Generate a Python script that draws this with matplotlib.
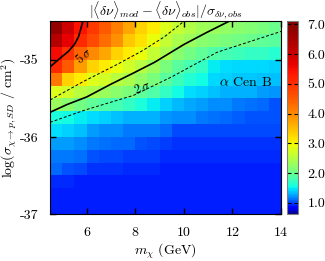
import numpy as np
import matplotlib
matplotlib.use("Agg")
import matplotlib.pyplot as plt
from matplotlib.colors import ListedColormap

# grid of the map: cell centres
mass = np.arange(4.75, 14.0, 0.5)                       # GeV, 19 columns
log_sigma = np.linspace(-34.5 - 1/12, -37 + 1/12, 15)   # top row first

# |<dnu>_mod - <dnu>_obs| / sigma (top row first)
chi = np.array([
    [6.8, 6.0, 5.4, 4.9, 4.5, 4.1, 3.7, 3.3, 3.1, 2.8, 2.6, 2.45, 2.35, 2.3, 2.25, 2.2, 2.15, 2.1, 2.0],
    [6.3, 5.7, 5.1, 4.7, 4.3, 3.9, 3.4, 3.2, 2.9, 2.6, 2.4, 2.3, 2.2, 2.15, 2.1, 2.05, 2.0, 1.95, 1.9],
    [5.5, 5.0, 4.4, 4.0, 3.7, 3.3, 3.1, 2.9, 2.6, 2.4, 2.2, 2.05, 1.95, 1.85, 1.8, 1.75, 1.7, 1.7, 1.65],
    [5.1, 4.5, 3.8, 3.3, 3.1, 2.9, 2.7, 2.5, 2.3, 2.1, 1.9, 1.8, 1.7, 1.5, 1.45, 1.42, 1.42, 1.42, 1.4],
    [4.2, 3.3, 3.1, 2.8, 2.7, 2.5, 2.4, 2.25, 2.1, 1.9, 1.75, 1.62, 1.55, 1.42, 1.38, 1.37, 1.36, 1.35, 1.35],
    [2.8, 2.7, 2.5, 2.4, 2.3, 2.2, 2.1, 1.95, 1.85, 1.7, 1.55, 1.45, 1.4, 1.35, 1.3, 1.3, 1.28, 1.25, 1.22],
    [2.3, 2.2, 2.05, 1.95, 1.85, 1.8, 1.7, 1.6, 1.5, 1.4, 1.32, 1.27, 1.25, 1.2, 1.18, 1.15, 1.12, 1.1, 1.05],
    [1.6, 1.55, 1.5, 1.45, 1.4, 1.35, 1.3, 1.3, 1.28, 1.22, 1.2, 1.2, 1.15, 1.12, 1.08, 1.06, 1.05, 1.04, 1.03],
    [1.45, 1.4, 1.35, 1.25, 1.2, 1.2, 1.15, 1.15, 1.15, 1.1, 1.0, 1.0, 1.0, 1.0, 1.0, 1.0, 1.0, 1.0, 1.0],
    [1.25, 1.25, 1.2, 1.15, 1.12, 1.1, 1.08, 1.05, 1.0, 0.98, 0.96, 0.96, 0.95, 0.95, 0.95, 0.95, 0.95, 0.95, 0.95],
    [1.15, 1.15, 1.12, 1.05, 1.0, 1.0, 0.98, 0.98, 0.98, 0.94, 0.93, 0.93, 0.93, 0.93, 0.93, 0.93, 0.93, 0.93, 0.93],
    [1.1, 1.05, 1.0, 0.97, 0.95, 0.95, 0.93, 0.93, 0.93, 0.92, 0.92, 0.92, 0.92, 0.92, 0.92, 0.92, 0.92, 0.92, 0.92],
    [0.93, 0.93, 0.92, 0.92, 0.92, 0.92, 0.92, 0.92, 0.92, 0.92, 0.92, 0.92, 0.92, 0.92, 0.92, 0.92, 0.92, 0.92, 0.92],
    [0.92, 0.92, 0.92, 0.92, 0.92, 0.92, 0.92, 0.92, 0.92, 0.92, 0.92, 0.92, 0.92, 0.92, 0.92, 0.92, 0.92, 0.92, 0.92],
    [0.91, 0.91, 0.91, 0.91, 0.91, 0.91, 0.91, 0.91, 0.91, 0.91, 0.91, 0.91, 0.91, 0.91, 0.91, 0.91, 0.91, 0.91, 0.91],
])

# contour lines
c5_m = [4.5, 4.98, 5.25, 5.5, 5.67, 5.85]
c5_s = [-35.09, -34.96, -34.89, -34.80, -34.70, -34.5]
c2_m = [4.5, 5.19, 6.01, 6.97, 7.93, 8.8, 10.0, 10.9, 11.85]
c2_s = [-35.68, -35.58, -35.48, -35.32, -35.17, -35.03, -34.80, -34.65, -34.5]
up_m = [4.5, 5.87, 7.25, 8.3, 9.2, 10.0]
up_s = [-35.52, -35.28, -35.06, -34.88, -34.70, -34.5]
lo_m = [4.5, 5.94, 7.93, 9.5, 11.37, 14.0]
lo_s = [-35.81, -35.65, -35.46, -35.22, -34.90, -34.63]

vmin, vmax = 0.62, 7.1
cb_ticks = [1.0, 2.0, 3.0, 4.0, 5.0, 6.0, 7.0]


def main():
    plt.rcParams['font.family'] = 'serif'
    plt.rcParams['font.serif'] = ['cmr10', 'DejaVu Serif']
    plt.rcParams['mathtext.fontset'] = 'cm'
    plt.rcParams['font.size'] = 10

    # jet, spread logarithmically over a linear colour axis
    v = np.linspace(vmin, vmax, 256)
    cmap = ListedColormap(plt.cm.jet(np.log(v / vmin) / np.log(vmax / vmin)))

    fig = plt.figure(figsize=(3.25, 2.61), dpi=100)
    ax = fig.add_axes([0.154, 0.18, 0.711, 0.738])
    cax = fig.add_axes([0.883, 0.18, 0.034, 0.738])

    mesh = ax.pcolormesh(mass, log_sigma, chi, cmap=cmap, vmin=vmin, vmax=vmax,
                         shading='nearest')

    ax.plot(c5_m, c5_s, color='black', lw=1.2)
    ax.plot(c2_m, c2_s, color='black', lw=1.2)
    ax.plot(up_m, up_s, color='black', lw=0.7, ls=(0, (3, 2)))
    ax.plot(lo_m, lo_s, color='black', lw=0.7, ls=(0, (3, 2)))

    ax.text(5.87, -34.95, r'5$\,\sigma$', rotation=40, ha='center', va='center', fontsize=9)
    ax.text(8.28, -35.36, r'2$\,\sigma$', rotation=20, ha='center', va='center', fontsize=9)
    ax.text(12.55, -35.29, r'$\alpha$ Cen B', ha='center', va='center', fontsize=10)

    ax.set_xlim(4.5, 14)
    ax.set_ylim(-37, -34.5)
    ax.set_xticks([6, 8, 10, 12, 14])
    ax.set_xticklabels(['6', '8', '10', '12', '14'])
    ax.set_yticks([-37, -36, -35])
    ax.set_yticklabels(['-37', '-36', '-35'])
    ax.tick_params(direction='in', top=True, right=True, length=4, width=1)
    ax.tick_params(axis='x', pad=9)
    ax.tick_params(axis='y', pad=8)
    ax.set_xlabel(r'$m_\chi$ (GeV)', labelpad=2)
    ax.set_ylabel(r'log($\sigma_{\chi\to p,SD}$ / cm$^2$)', fontsize=10, labelpad=1)
    ax.set_title(r'$|\langle\delta\nu\rangle_{mod} - \langle\delta\nu\rangle_{obs}|/\sigma_{\delta\nu,obs}$',
                 fontsize=10, pad=4)

    cb = fig.colorbar(mesh, cax=cax)
    cb.set_ticks(cb_ticks)
    cb.set_ticklabels(['%.1f' % t for t in cb_ticks])
    cb.ax.tick_params(direction='in', left=True, right=True, length=3, width=0.8, pad=7)
    cb.outline.set_edgecolor('0.5')

    fig.savefig('out.png', dpi=100)


if __name__ == "__main__":
    main()
